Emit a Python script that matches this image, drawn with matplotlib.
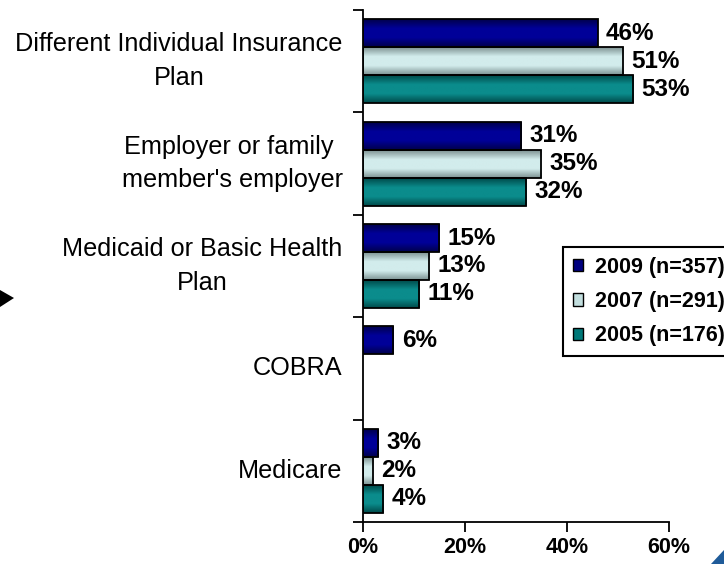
import numpy as np
import matplotlib
matplotlib.use('Agg')
import matplotlib.pyplot as plt
from matplotlib.colors import LinearSegmentedColormap
from matplotlib.patches import Polygon, Patch

plt.rcParams['font.family'] = ['Liberation Sans', 'DejaVu Sans']

categories = [
    'Different Individual Insurance\nPlan',
    "Employer or family \nmember's employer",
    'Medicaid or Basic Health\nPlan',
    'COBRA',
    'Medicare',
]
series = ['2009 (n=357)', '2007 (n=291)', '2005 (n=176)']
pct_2009 = [46, 31, 15, 6, 3]
pct_2007 = [51, 35, 13, None, 2]
pct_2005 = [53, 32, 11, None, 4]
x_ticks = [0, 20, 40, 60]

# edge shade, centre shade, legend swatch for each year
shades = [
    ('#00004c', '#000098', '#000080'),
    ('#7d9292', '#d2ecec', '#c2dede'),
    ('#004a4a', '#0b8c8c', '#007878'),
]

W, H = 724, 564


def px(x, y):
    """pixel position (from top-left) -> figure fraction"""
    return x / W, 1 - y / H


fig = plt.figure(figsize=(W / 100, H / 100), dpi=100)
left, top = px(362.7, 10)
right, bottom = px(669, 522)
ax = fig.add_axes([left, bottom, right - left, top - bottom])

ypos = np.arange(len(categories))
bar_h = 0.273
grad = np.linspace(0, 1, 64).reshape(-1, 1)

for i, vals in enumerate([pct_2009, pct_2007, pct_2005]):
    edge, mid, _ = shades[i]
    cmap = LinearSegmentedColormap.from_list(f's{i}', [edge, mid, mid, edge])
    off = (i - 1) * bar_h
    for yc, v in zip(ypos, vals):
        if v is None:
            continue
        yb = yc + off
        ax.imshow(grad, extent=[0, v, yb + bar_h / 2, yb - bar_h / 2],
                  cmap=cmap, aspect='auto', zorder=2, interpolation='bilinear')
        ax.barh(yb, v, height=bar_h, facecolor='none', edgecolor='black',
                lw=1.3, zorder=3)
        ax.annotate(f'{v}%', (v, yb), xytext=(6, 0), textcoords='offset points',
                    ha='left', va='center', fontsize=17.5, fontweight='bold')

ax.set_xlim(0, 60)
ax.set_ylim(len(categories) - 0.5, -0.5)

ax.set_xticks(x_ticks)
ax.set_xticklabels([f'{t}%' for t in x_ticks], fontsize=15.5, fontweight='bold')
ax.tick_params(axis='x', length=7, width=1.3, direction='out', pad=4)

# separators between categories as ticks, names drawn as centred text blocks
ax.set_yticks(np.arange(-0.5, len(categories), 1))
ax.set_yticklabels([])
ax.tick_params(axis='y', length=7, width=1.3, direction='out')
ytrans = ax.get_yaxis_transform()
for yc, name in zip(ypos, categories):
    ax.annotate(name, (0, yc), xycoords=ytrans, xytext=(-20, 0),
                textcoords='offset pixels', ha='right', va='center',
                multialignment='center', fontsize=18.2, linespacing=1.5,
                annotation_clip=False)

for s in ('top', 'right'):
    ax.spines[s].set_visible(False)
for s in ('left', 'bottom'):
    ax.spines[s].set_linewidth(1.3)

handles = [Patch(facecolor=sw, edgecolor='black', lw=1) for _, _, sw in shades]
leg = fig.legend(handles, series, loc='upper left', bbox_to_anchor=px(563, 247),
                 frameon=True, fancybox=False, edgecolor='black', framealpha=1,
                 prop={'weight': 'bold', 'size': 15.5}, handlelength=0.5,
                 handleheight=0.5, handletextpad=0.55, labelspacing=0.62,
                 borderpad=0.45, borderaxespad=0)
leg.get_frame().set_linewidth(1.5)

# pointer at the left edge and corner accent at bottom right
fig.patches.append(Polygon([px(0, 290), px(14, 298), px(0, 307)],
                           closed=True, transform=fig.transFigure,
                           facecolor='black', edgecolor='none'))
fig.patches.append(Polygon([px(711, 564), px(724, 550), px(724, 564)],
                           closed=True, transform=fig.transFigure,
                           facecolor='#1f5b99', edgecolor='none'))

fig.savefig('out.png', dpi=100)
